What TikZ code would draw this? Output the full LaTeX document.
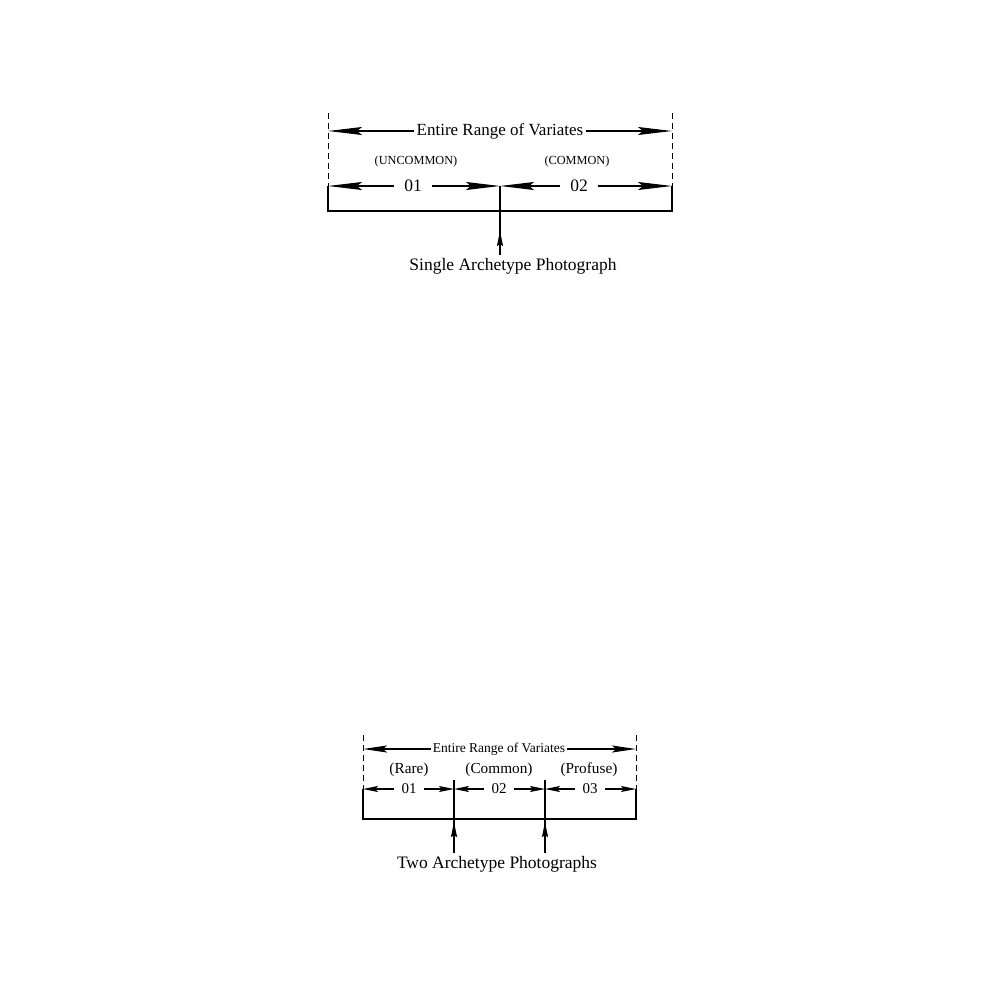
\documentclass[tikz,border=0pt]{standalone}
\usepackage{fontspec}
\setmainfont{Liberation Serif}
\usetikzlibrary{arrows.meta, positioning, calc}
\tikzset{
  rangetext/.style={font=\fontsize{17}{19}\selectfont, inner sep=2pt},
  rangetextsmall/.style={font=\fontsize{13.5}{15}\selectfont, inner sep=2pt},
  classtext/.style={font=\fontsize{12.3}{14}\selectfont, inner sep=1pt},
  classtextsmall/.style={font=\fontsize{15.3}{17}\selectfont, inner sep=1pt},
  bintext/.style={font=\fontsize{17.5}{19}\selectfont, inner sep=10pt},
  bintextsmall/.style={font=\fontsize{15}{17}\selectfont, inner sep=7pt},
  phototext/.style={font=\fontsize{17.5}{19}\selectfont, inner sep=3pt},
  bigarrow/.style={-{Stealth[length=34pt,width=8pt,inset=5pt]}, line width=1.6pt},
  midarrow/.style={-{Stealth[length=24pt,width=7pt,inset=4pt]}, line width=1.4pt},
  smallarrow/.style={-{Stealth[length=15pt,width=6pt,inset=3pt]}, line width=1.1pt},
  photoarrow/.style={-{Stealth[length=15pt,width=6pt,inset=2pt]}, line width=1.6pt},
  boxline/.style={line width=1.4pt},
  rangeedge/.style={line width=0.8pt, dash pattern=on 6pt off 4pt},
}

\begin{document}
\begin{tikzpicture}[x=1pt, y=-1pt]
  \useasboundingbox (0,0) rectangle (999,999);

  % Single archetype: two bins
  \coordinate (tl) at (328,186);
  \coordinate (tr) at (672,186);
  \coordinate (tm) at (500,186);
  \coordinate (bl) at (328,211);
  \coordinate (br) at (672,211);
  \coordinate (tip1) at (500,231);
  \coordinate (rl) at (328,131);
  \coordinate (rr) at (672,131);

  \draw[rangeedge] (328,113) -- (tl);
  \draw[rangeedge] (672,113) -- (tr);

  \node[rangetext] (range1) at (500,131) {Entire Range of Variates};
  \draw[bigarrow] (range1.west) -- (rl);
  \draw[bigarrow] (range1.east) -- (rr);

  \node[classtext] (uncommon) at (416,162) {(UNCOMMON)};
  \node[classtext] (common) at (577,162) {(COMMON)};

  \node[bintext] (bin01) at (413,186) {01};
  \node[bintext] (bin02) at (579,186) {02};
  \draw[bigarrow] (bin01) -- (tl);
  \draw[bigarrow] (bin01) -- (tm);
  \draw[bigarrow] (bin02) -- (tm);
  \draw[bigarrow] (bin02) -- (tr);

  \draw[boxline] (tl) -- (bl) -- (br) -- (tr);

  \node[phototext] (photo1) at (513,266) {Single Archetype Photograph};
  \draw[boxline] (tm) -- (photo1.north -| tm);
  \draw[photoarrow] (photo1.north -| tm) -- (tip1);

  % Two archetypes: three bins
  \coordinate (ul) at (363,789);
  \coordinate (ur) at (636,789);
  \coordinate (ua) at (454,789);
  \coordinate (ub) at (545,789);
  \coordinate (vl) at (363,819);
  \coordinate (vr) at (636,819);
  \coordinate (da) at (454,780);
  \coordinate (db) at (545,780);
  \coordinate (tipa) at (454,822);
  \coordinate (tipb) at (545,822);
  \coordinate (sl) at (363,749);
  \coordinate (sr) at (636,749);

  \draw[rangeedge] (363,735) -- (ul);
  \draw[rangeedge] (636,735) -- (ur);

  \node[rangetextsmall] (range2) at (499,749) {Entire Range of Variates};
  \draw[midarrow] (range2.west) -- (sl);
  \draw[midarrow] (range2.east) -- (sr);

  \node[classtextsmall] (rare) at (409,770) {(Rare)};
  \node[classtextsmall] (common2) at (499,770) {(Common)};
  \node[classtextsmall] (profuse) at (589,770) {(Profuse)};

  \node[bintextsmall] (bin201) at (409,789) {01};
  \node[bintextsmall] (bin202) at (499,789) {02};
  \node[bintextsmall] (bin203) at (590,789) {03};
  \draw[smallarrow] (bin201) -- (ul);
  \draw[smallarrow] (bin201) -- (ua);
  \draw[smallarrow] (bin202) -- (ua);
  \draw[smallarrow] (bin202) -- (ub);
  \draw[smallarrow] (bin203) -- (ub);
  \draw[smallarrow] (bin203) -- (ur);

  \draw[boxline] (ul) -- (vl) -- (vr) -- (ur);

  \node[phototext] (photo2) at (497,864) {Two Archetype Photographs};
  \draw[boxline] (da) -- (photo2.north -| da);
  \draw[boxline] (db) -- (photo2.north -| db);
  \draw[photoarrow] (photo2.north -| da) -- (tipa);
  \draw[photoarrow] (photo2.north -| db) -- (tipb);
\end{tikzpicture}
\end{document}
